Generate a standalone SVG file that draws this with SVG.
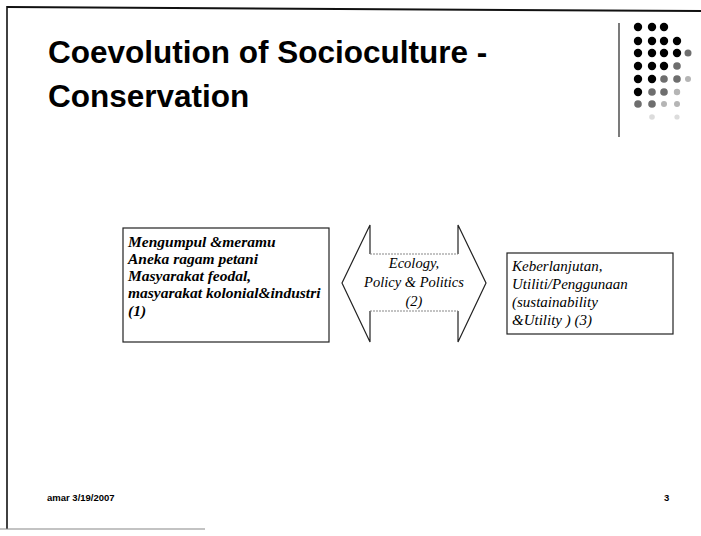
<svg xmlns="http://www.w3.org/2000/svg" width="701" height="536" viewBox="0 0 701 536">
<style>
.title{font-family:"Liberation Sans",Arial,sans-serif;font-weight:bold;font-size:31.5px;fill:#000}
.box{fill:#fff;stroke:#222;stroke-width:1.2}
.t1{font-family:"Liberation Serif","Times New Roman",serif;font-style:italic;font-weight:bold;font-size:15.5px;fill:#000}
.t2{font-family:"Liberation Serif","Times New Roman",serif;font-style:italic;font-size:14.5px;fill:#000}
.t3{font-family:"Liberation Serif","Times New Roman",serif;font-style:italic;font-size:15px;fill:#000}
.foot{font-family:"Liberation Sans",Arial,sans-serif;font-weight:bold;font-size:9.5px;fill:#000}
.dk{fill:#000}.gr{fill:#6e6e6e}.lt{fill:#b5b5b5}.vl{fill:#dcdcdc}
</style>
<rect width="701" height="536" fill="#fff"/>
<g id="frame">
<line x1="7" y1="7" x2="701" y2="11" stroke="#111" stroke-width="2"/>
<line x1="7" y1="6" x2="7" y2="529" stroke="#111" stroke-width="1.6"/>
<line x1="0" y1="529" x2="205" y2="529" stroke="#888" stroke-width="1.2"/>
<line x1="619" y1="23" x2="619" y2="137" stroke="#333" stroke-width="1.3"/>
</g>
<g id="title">
<text class="title" x="48" y="63">Coevolution of Socioculture -</text>
<text class="title" x="48" y="107">Conservation</text>
</g>
<g id="dots">
<circle class="dk" cx="638" cy="27" r="4.2"/><circle class="dk" cx="652" cy="27" r="4.2"/><circle class="dk" cx="664" cy="27" r="4.2"/>
<circle class="dk" cx="638" cy="41" r="4.2"/><circle class="dk" cx="652" cy="41" r="4.2"/><circle class="dk" cx="664" cy="41" r="4.2"/><circle class="dk" cx="677" cy="41" r="4.2"/>
<circle class="dk" cx="638" cy="53" r="4.2"/><circle class="dk" cx="652" cy="53" r="4.2"/><circle class="dk" cx="664" cy="53" r="4.2"/><circle class="dk" cx="677" cy="53" r="4.2"/><circle class="gr" cx="688" cy="53" r="3.5"/>
<circle class="dk" cx="638" cy="66" r="4.2"/><circle class="dk" cx="652" cy="66" r="4.2"/><circle class="dk" cx="664" cy="66" r="4.2"/><circle class="gr" cx="677" cy="66" r="3.8"/>
<circle class="dk" cx="638" cy="79" r="4.2"/><circle class="dk" cx="652" cy="79" r="4.2"/><circle class="gr" cx="664" cy="79" r="3.8"/><circle class="gr" cx="677" cy="79" r="3.8"/><circle class="lt" cx="688" cy="79" r="3"/>
<circle class="dk" cx="638" cy="92" r="4.2"/><circle class="gr" cx="652" cy="92" r="3.8"/><circle class="gr" cx="664" cy="92" r="3.8"/><circle class="lt" cx="677" cy="92" r="3.2"/>
<circle class="gr" cx="638" cy="104" r="3.8"/><circle class="gr" cx="652" cy="104" r="3.8"/><circle class="lt" cx="664" cy="104" r="3"/><circle class="lt" cx="677" cy="104" r="3"/>
<circle class="vl" cx="652" cy="117" r="2.8"/><circle class="vl" cx="677" cy="117" r="2.6"/>
</g>
<g id="node1">
<rect class="box" x="123" y="228" width="206" height="114"/>
<text class="t1" x="128" y="247">Mengumpul &amp;meramu</text>
<text class="t1" x="128" y="264">Aneka ragam petani</text>
<text class="t1" x="128" y="281">Masyarakat feodal,</text>
<text class="t1" x="128" y="298">masyarakat kolonial&amp;industri</text>
<text class="t1" x="128" y="316">(1)</text>
</g>
<g id="connectors">
<g id="node2">
<polygon points="342,283 370,225 370,254 458,254 458,225 486,283 458,342 458,311 370,311 370,342" fill="#fff" stroke="none"/>
<polyline points="370,254 370,225 342,283 370,342 370,311" fill="none" stroke="#222" stroke-width="1.2"/>
<polyline points="458,254 458,225 486,283 458,342 458,311" fill="none" stroke="#222" stroke-width="1.2"/>
<line x1="370" y1="254" x2="458" y2="254" stroke="#888" stroke-width="1.2" stroke-dasharray="2,1"/>
<line x1="370" y1="311" x2="458" y2="311" stroke="#888" stroke-width="1.2" stroke-dasharray="2,1"/>
<text class="t2" x="414" y="268" text-anchor="middle">Ecology,</text>
<text class="t2" x="414" y="287" text-anchor="middle">Policy &amp; Politics</text>
<text class="t2" x="414" y="306" text-anchor="middle">(2)</text>
</g>
</g>
<g id="node3">
<rect class="box" x="507" y="253" width="166" height="81"/>
<text class="t3" x="512" y="271">Keberlanjutan,</text>
<text class="t3" x="512" y="289">Utiliti/Penggunaan</text>
<text class="t3" x="512" y="307">(sustainability</text>
<text class="t3" x="512" y="325">&amp;Utility ) (3)</text>
</g>
<g id="footer">
<text class="foot" x="47" y="501">amar 3/19/2007</text>
<text class="foot" x="664" y="501">3</text>
</g>
</svg>
